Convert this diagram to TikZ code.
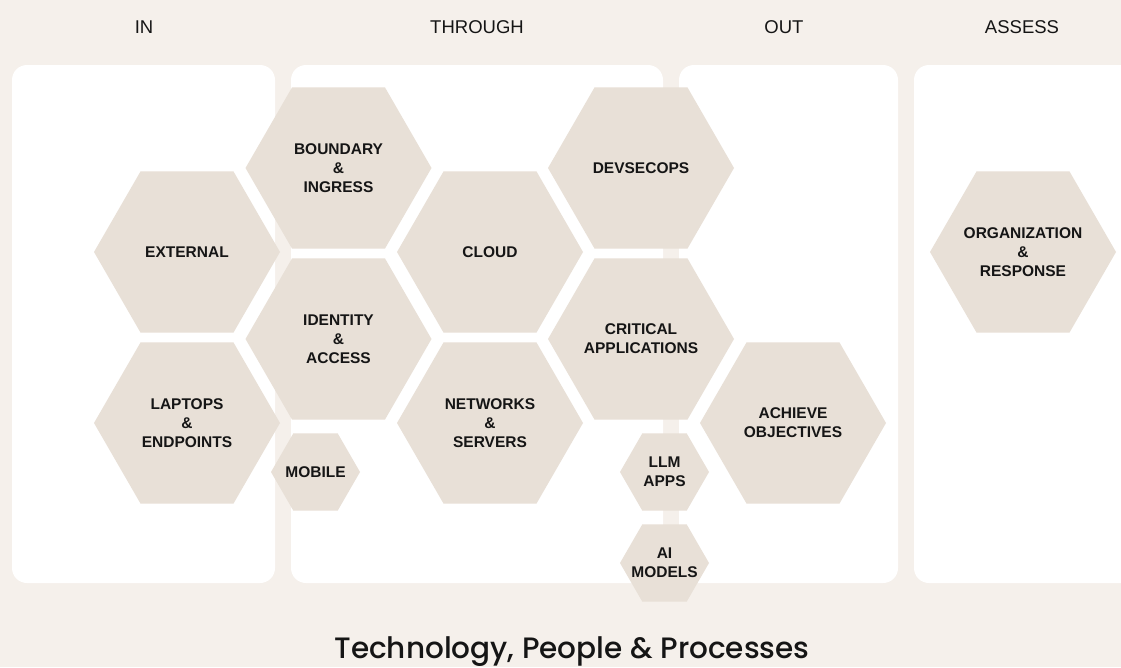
\documentclass[tikz,border=0pt]{standalone}
\usepackage{fontspec}
\setmainfont{Liberation Sans}
\newfontfamily\titlefont{Poppins Medium}
\usetikzlibrary{shapes.geometric}

\definecolor{paper}{HTML}{F5F0EB}
\definecolor{hexfill}{HTML}{E8E0D7}
\definecolor{ink}{HTML}{151515}

\begin{document}
\begin{tikzpicture}[x=1pt, y=-1pt,
  hexbig/.style={regular polygon, regular polygon sides=6,
    fill=hexfill, minimum size=186pt, inner sep=-14pt, align=center, text=ink,
    font=\fontsize{15.5}{19}\selectfont\bfseries},
  hexsmall/.style={hexbig, minimum size=89pt},
  panel/.style={fill=white, rounded corners=15pt},
  colhead/.style={font=\fontsize{18.5}{20}\selectfont, text=ink}]
  \fill[paper] (0,0) rectangle (1121,667);
  \useasboundingbox (0,0) rectangle (1121,667);

  % column panels
  \fill[panel] (12,65) rectangle (275,583);
  \fill[panel] (291,65) rectangle (663,583);
  \fill[panel] (679,65) rectangle (898,583);
  \fill[panel] (914,65) rectangle (1140,583);

  % column headings
  \node[colhead] (hin) at (144,27) {IN};
  \node[colhead] (hthrough) at (477,27) {THROUGH};
  \node[colhead] (hout) at (784,27) {OUT};
  \node[colhead] (hassess) at (1022,27) {ASSESS};

  % in
  \node[hexbig] (external) at (187,252) {EXTERNAL};
  \node[hexbig] (laptops) at (187,423) {LAPTOPS\\\&\\ENDPOINTS};
  % through
  \node[hexbig] (boundary) at (338.5,168) {BOUNDARY\\\&\\INGRESS};
  \node[hexbig] (identity) at (338.5,339) {IDENTITY\\\&\\ACCESS};
  \node[hexsmall] (mobile) at (315.5,472) {MOBILE};
  \node[hexbig] (cloud) at (490,252) {CLOUD};
  \node[hexbig] (networks) at (490,423) {NETWORKS\\\&\\SERVERS};
  \node[hexbig] (devsecops) at (641,168) {DEVSECOPS};
  \node[hexbig] (critical) at (641,339) {CRITICAL\\APPLICATIONS};
  \node[hexsmall] (llmapps) at (664.5,472) {LLM\\APPS};
  \node[hexsmall] (aimodels) at (664.5,563) {AI\\MODELS};
  % out
  \node[hexbig] (achieve) at (793,423) {ACHIEVE\\OBJECTIVES};
  % assess
  \node[hexbig] (orgresp) at (1023,252) {ORGANIZATION\\\&\\RESPONSE};

  \node[font=\titlefont\fontsize{29.5}{30}\selectfont, text=ink, anchor=base] (title)
    at (572,658) {Technology, People \& Processes};
\end{tikzpicture}
\end{document}
